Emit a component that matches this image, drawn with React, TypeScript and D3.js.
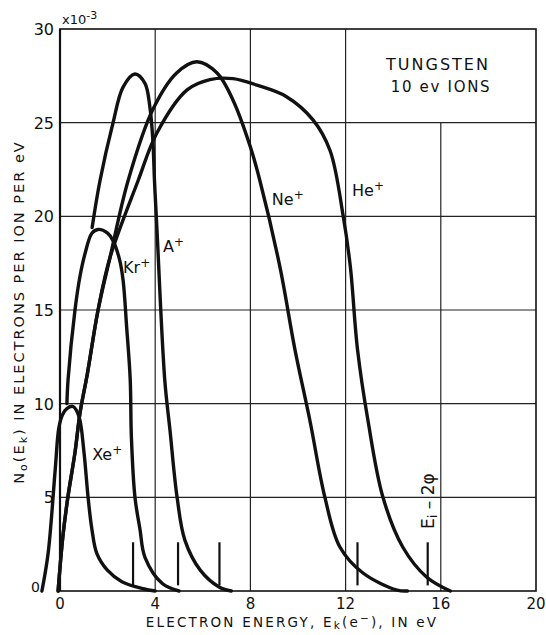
import * as d3 from "d3";

// electron energy (eV) and yield (x10^-3 electrons per ion per eV)
const xeEnergy = [-0.76, -0.5, -0.2, -0.05, 0.1, 0.3, 0.55, 0.8, 1.0, 1.18, 1.34, 1.55, 2.0, 2.6, 3.5, 4.0];
const xeYield = [0, 2, 6.5, 8.7, 9.4, 9.75, 9.85, 9.3, 7.5, 5, 3.3, 2.0, 1.1, 0.5, 0.12, 0];

const krEnergy = [0.29, 0.34, 0.63, 0.84, 1.05, 1.34, 1.6, 2.0, 2.23, 2.5, 2.65, 2.8, 2.95, 3.0, 3.15, 3.36, 3.57, 4.3, 5.0];
const krYield = [10.0, 11.3, 15, 16.8, 18.0, 19.1, 19.3, 19.1, 18.7, 17.7, 16.6, 14.1, 11.3, 8.2, 5, 3.3, 1.8, 0.4, 0];

const arEnergy = [1.35, 1.68, 2.23, 2.65, 3.15, 3.57, 3.78, 3.9, 3.97, 4.07, 4.4, 4.62, 4.92, 5.25, 5.9, 6.7, 7.2];
const arYield = [19.4, 21.9, 25, 26.9, 27.6, 27.1, 25.8, 24.1, 21.9, 19.4, 11.3, 8.6, 5, 2.7, 1.1, 0.2, 0];

const neEnergy = [-0.08, 0.12, 0.33, 0.63, 0.84, 1.15, 1.6, 2.1, 2.86, 3.9, 4.9, 5.75, 6.6, 7.27, 8.0, 8.4, 9.24, 9.87, 10.5, 11.13, 11.76, 12.73, 14.16, 14.6];
const neYield = [0, 2.9, 5, 7.4, 9.5, 11.6, 15, 17.8, 21.9, 25.7, 27.65, 28.25, 27.65, 26.2, 23.7, 21.9, 17.3, 12.9, 9.1, 5, 2.35, 0.96, 0.05, 0];

const heEnergy = [-0.08, 0.12, 0.33, 0.63, 0.84, 1.15, 1.6, 2.1, 3.28, 4.07, 5.34, 6.3, 7.27, 8.28, 9.5, 10.63, 11.35, 11.9, 12.2, 12.5, 12.94, 13.57, 14.4, 15.4, 16.4];
const heYield = [0, 2.9, 5, 7.4, 9.5, 11.6, 15, 17.8, 21.9, 24.45, 26.75, 27.3, 27.35, 27.0, 26.4, 25.15, 23.5, 20, 17.3, 12.9, 9.1, 5, 2.35, 0.75, 0];

// short vertical markers near the axis
const markerEnergy = [3.07, 4.96, 6.7, 12.5, 15.45];
const markerLow = 0.3;
const markerHigh = 2.6;

const xTicks = [0, 4, 8, 12, 16, 20];
const yTicks = [0, 5, 10, 15, 20, 25, 30];

const ions = [
  { name: "Xe", energy: xeEnergy, yields: xeYield },
  { name: "Kr", energy: krEnergy, yields: krYield },
  { name: "A", energy: arEnergy, yields: arYield },
  { name: "Ne", energy: neEnergy, yields: neYield },
  { name: "He", energy: heEnergy, yields: heYield },
];

const ionLabels = [
  { name: "Xe", e: 1.35, v: 7.0 },
  { name: "Kr", e: 2.65, v: 17.0 },
  { name: "A", e: 4.33, v: 18.1 },
  { name: "Ne", e: 8.9, v: 20.6 },
  { name: "He", e: 12.27, v: 21.1 },
];

const font = "'DejaVu Sans', sans-serif";

export default function App() {
  const width = 546;
  const height = 635;
  const x = d3.scaleLinear().domain([0, 20]).range([60, 536]);
  const y = d3.scaleLinear().domain([0, 30]).range([591, 29]);

  const line = d3
    .line<[number, number]>()
    .x((d) => x(d[0]))
    .y((d) => y(d[1]))
    .curve(d3.curveCatmullRom.alpha(0.5));

  const ink = "#111";

  return (
    <svg
      width={width}
      height={height}
      style={{ position: "absolute", left: 0, top: 0, background: "#fff" }}
      fontFamily={font}
    >
      {/* grid */}
      {xTicks.slice(1, -1).map((t) => (
        <line
          key={"gx" + t}
          x1={x(t)}
          x2={x(t)}
          y1={y(0)}
          y2={t === 16 ? y(25) : y(30)}
          stroke="#222"
          strokeWidth={1.2}
        />
      ))}
      {yTicks.slice(1, -1).map((t) => (
        <line
          key={"gy" + t}
          x1={x(0)}
          x2={x(20)}
          y1={y(t)}
          y2={y(t)}
          stroke="#222"
          strokeWidth={1.2}
        />
      ))}
      {/* frame */}
      <rect x={x(0)} y={y(30)} width={x(20) - x(0)} height={y(0) - y(30)} fill="none" stroke={ink} strokeWidth={1.6} />
      <line x1={x(0)} x2={x(0)} y1={y(0)} y2={y(30)} stroke={ink} strokeWidth={2.2} />

      {/* curves */}
      {ions.map((s) => (
        <path
          key={s.name}
          d={line(s.energy.map((e, i) => [e, s.yields[i]] as [number, number])) || ""}
          fill="none"
          stroke={ink}
          strokeWidth={3.4}
          strokeLinecap="round"
          strokeLinejoin="round"
        />
      ))}

      {/* markers */}
      {markerEnergy.map((e) => (
        <line key={"m" + e} x1={x(e)} x2={x(e)} y1={y(markerLow)} y2={y(markerHigh)} stroke={ink} strokeWidth={2.2} />
      ))}

      {/* ion labels */}
      {ionLabels.map((l) => (
        <text key={"l" + l.name} x={x(l.e)} y={y(l.v)} fontSize={16} fill={ink}>
          {l.name}
          <tspan fontSize={12} dy={-6}>+</tspan>
        </text>
      ))}

      {/* Ei - 2phi */}
      <text transform={`translate(${x(15.45) + 6},${y(4.8)}) rotate(-90)`} textAnchor="middle" fontSize={17} fill={ink}>
        E<tspan fontSize={13} dy={3}>i</tspan>
        <tspan dy={-3}> – 2φ</tspan>
      </text>

      {/* title box text */}
      <text x={438} y={70} textAnchor="middle" fontSize={16} letterSpacing={2} fill={ink}>
        TUNGSTEN
      </text>
      <text x={441} y={92} textAnchor="middle" fontSize={15} letterSpacing={1.7} fill={ink}>
        10 ev IONS
      </text>

      {/* x tick labels */}
      {xTicks.map((t) => (
        <text key={"xt" + t} x={x(t)} y={609} textAnchor="middle" fontSize={15} fill={ink}>
          {t}
        </text>
      ))}
      {/* y tick labels */}
      {yTicks.map((t) => (
        <text
          key={"yt" + t}
          x={t === 0 ? 40 : 54}
          y={t === 0 ? y(t) + 1 : y(t) + 6}
          textAnchor="end"
          fontSize={t === 0 ? 14 : 16}
          fill={ink}
        >
          {t}
        </text>
      ))}
      <text x={62} y={24} fontSize={13} fill={ink}>
        x10<tspan fontSize={11} dy={-5}>-3</tspan>
      </text>

      {/* axis titles */}
      <text x={292} y={627} textAnchor="middle" fontSize={13.5} letterSpacing={2.2} fill={ink}>
        ELECTRON ENERGY,  E<tspan fontSize={10.5} dy={2}>k</tspan>
        <tspan dy={-2}>(e</tspan>
        <tspan fontSize={10.5} dy={-5}>−</tspan>
        <tspan dy={5}>),  IN  eV</tspan>
      </text>
      <text
        transform={`translate(24,312) rotate(-90)`}
        textAnchor="middle"
        fontSize={14.5}
        letterSpacing={2}
        fill={ink}
      >
        N<tspan fontSize={11} dy={3}>o</tspan>
        <tspan dy={-3}>(E</tspan>
        <tspan fontSize={11} dy={3}>k</tspan>
        <tspan dy={-3}>)  IN  ELECTRONS  PER  ION  PER  eV</tspan>
      </text>
    </svg>
  );
}
